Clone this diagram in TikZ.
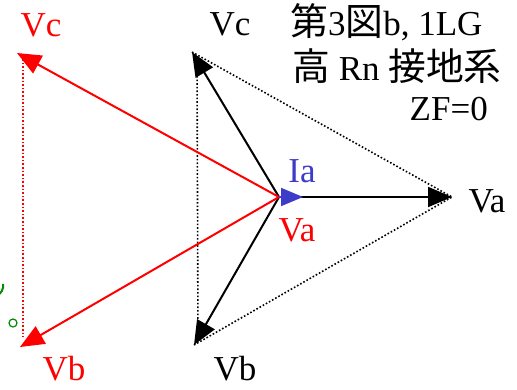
\documentclass[tikz,border=0pt]{standalone}
\usepackage{fontspec}
\setmainfont{Liberation Serif}
\newfontfamily\cjk[Scale=1.08]{Noto Sans CJK JP}
\usetikzlibrary{arrows.meta}
\definecolor{myred}{RGB}{255,0,0}
\definecolor{myblue}{RGB}{60,60,200}
\definecolor{mygreen}{RGB}{0,140,0}
\begin{document}
\begin{tikzpicture}[x=1pt,y=-1pt,
  lbl/.style={font=\fontsize{35}{40}\selectfont,inner sep=0pt,anchor=base},
  vec/.style={line width=2pt,-{Triangle[length=24pt,width=20pt]}},
  dots/.style={line width=1.6pt,dotted}]
\useasboundingbox (0,0) rectangle (517,389);
\coordinate (O) at (279,197);
% black phasors
\coordinate (bA) at (452,197);
\coordinate (bC) at (192,52);
\coordinate (bB) at (194,345);
\draw[dots] (bC) -- (bA);
\draw[dots] (bB) -- (bA);
\draw[dots] ([xshift=5pt,yshift=-6pt]bC) -- ([xshift=4pt,yshift=6pt]bB);
\draw[vec] (O) -- (bA);
\draw[vec] (O) -- (bC);
\draw[vec] (O) -- (bB);
% red phasors
\coordinate (rC) at (17,53);
\coordinate (rB) at (20,347);
\draw[dots,myred] ([xshift=6pt,yshift=-6pt]rC) -- ([xshift=3pt,yshift=10pt]rB);
\draw[vec,myred] (O) -- (rC);
\draw[vec,myred] (O) -- (rB);
% blue current
\coordinate (Ia) at (303,197);
\draw[myblue,line width=2pt,-{Triangle[length=22pt,width=18pt]}] (O) -- (Ia);
% green marks
\draw[mygreen,line width=2pt] (-4,296) arc[start angle=70,end angle=-10,radius=11];
\node[draw=mygreen,line width=1.2pt,circle,minimum size=8pt,inner sep=0pt] (gc) at (13,323) {};
% labels
\node[lbl,myred] (lrC) at (41,36) {Vc};
\node[lbl,myred] (lrB) at (64,380) {Vb};
\node[lbl,myred] (lrA) at (297,241) {Va};
\node[lbl,myblue] (lIa) at (302,182) {Ia};
\node[lbl] (lbC) at (230,35) {Vc};
\node[lbl] (lbA) at (487,212) {Va};
\node[lbl] (lbB) at (235,380) {Vb};
\node[lbl,anchor=base west] (t1) at (290,35) {{\cjk 第}3{\cjk 図}b, 1LG};
\node[lbl,anchor=base west] (t2) at (292,80) {{\cjk 高} Rn {\cjk 接地系}};
\node[lbl,anchor=base east] (t3) at (488,120) {ZF=0};
\end{tikzpicture}
\end{document}
